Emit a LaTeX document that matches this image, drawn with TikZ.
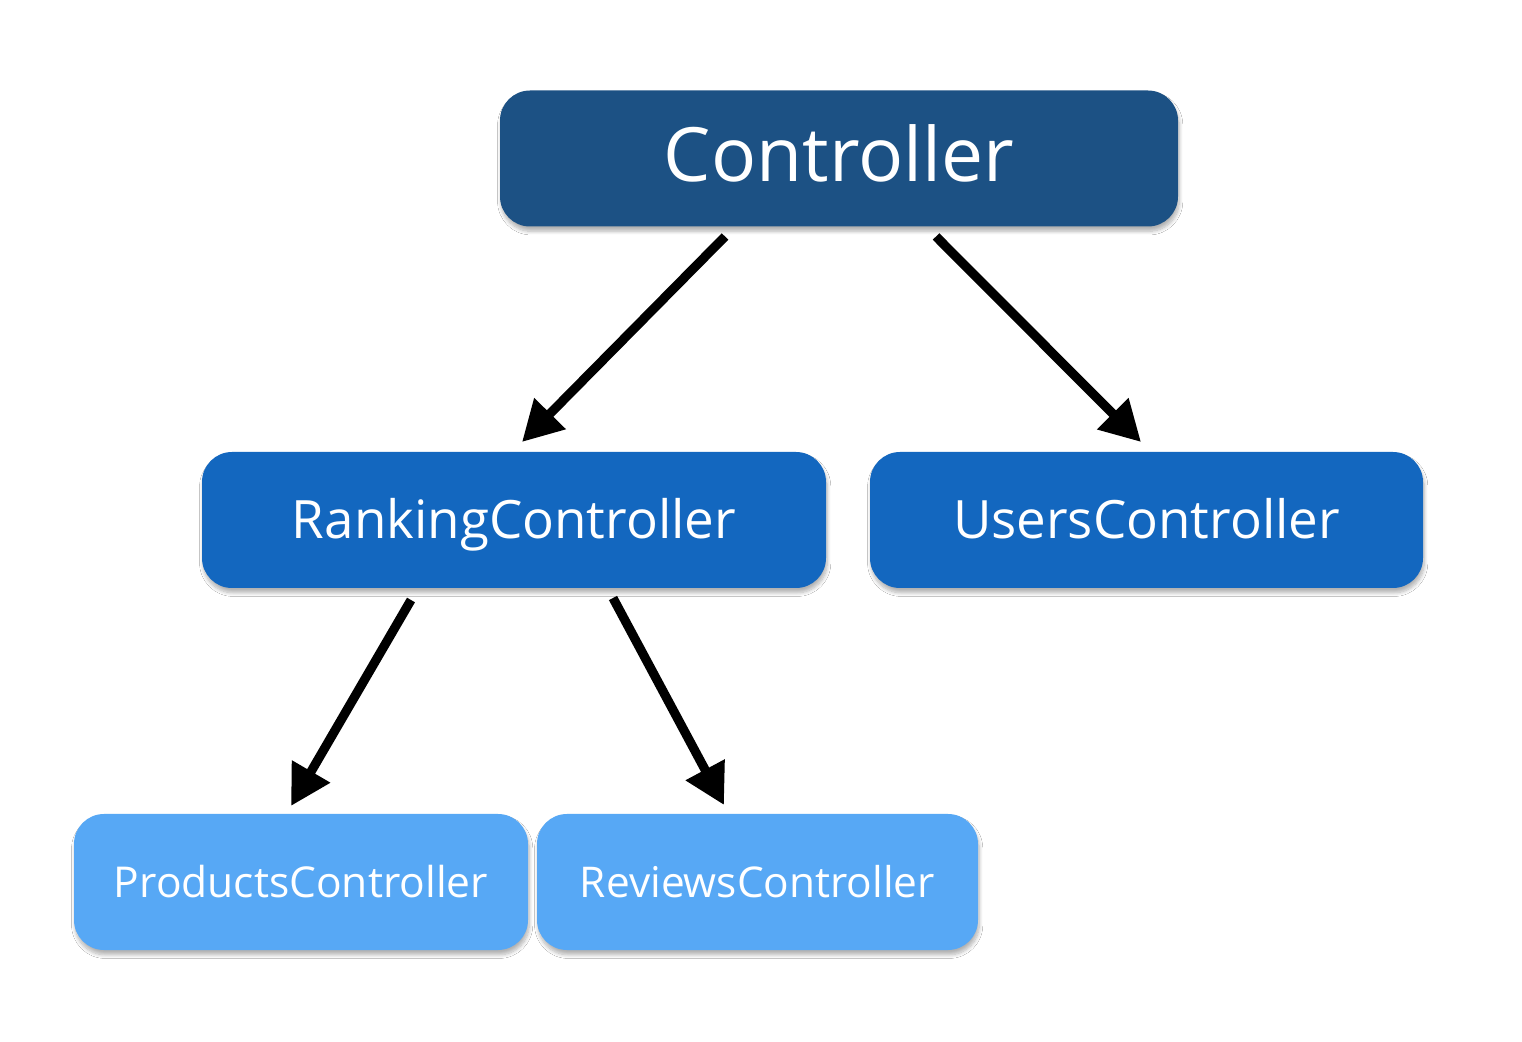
\documentclass[tikz,border=0pt]{standalone}
\usepackage{fontspec}
\setmainfont{Open Sans}
\usetikzlibrary{arrows.meta,shadows,shadows.blur,calc}
\definecolor{cdark}{HTML}{1C5184}
\definecolor{cmid}{HTML}{1367BF}
\definecolor{clight}{HTML}{57A8F5}
\tikzset{
  box/.style={rectangle, rounded corners=15pt, inner sep=0pt, outer sep=0pt,
    minimum height=68pt, text=white,
    blur shadow={shadow xshift=0.6pt, shadow yshift=-2.4pt, shadow blur radius=1.8pt, shadow blur steps=8, shadow opacity=30}},
  conn/.style={line width=4.6pt, -{Triangle[length=20pt,width=21pt]}}
}
\newcommand{\fitw}[3]{\raisebox{-#3}[0pt][0pt]{\resizebox{#1}{!}{#2}}}
\begin{document}
\begin{tikzpicture}[x=0.5pt,y=-0.5pt]
\fill[white] (0,0) rectangle (1522,1042);
\useasboundingbox (0,0) rectangle (1522,1042);
\node[box, fill=cdark, minimum width=339pt] (ctrl) at (839,158.5) {\fitw{175pt}{Controller}{11.75pt}};
\node[box, fill=cmid, minimum width=312pt] (rank) at (514,520) {\fitw{222pt}{RankingController}{9.3pt}};
\node[box, fill=cmid, minimum width=276.5pt] (users) at (1146.5,520) {\fitw{193.5pt}{UsersController}{9.3pt}};
\node[box, fill=clight, minimum width=227pt] (prod) at (301,882) {\fitw{187pt}{ProductsController}{7.7pt}};
\node[box, fill=clight, minimum width=220.5pt] (rev) at (757.5,882) {\fitw{177.5pt}{ReviewsController}{7.7pt}};
\draw[conn] ([xshift=-57pt,yshift=-5pt]ctrl.south) -- ([xshift=4pt,yshift=5pt]rank.north);
\draw[conn] ([xshift=48.5pt,yshift=-5pt]ctrl.south) -- ([xshift=-2.75pt,yshift=5pt]users.north);
\draw[conn] ([xshift=-51.5pt,yshift=-6pt]rank.south) -- ([xshift=-5pt,yshift=4pt]prod.north);
\draw[conn] ([xshift=49.5pt,yshift=-5pt]rank.south) -- ([xshift=-16.75pt,yshift=4.5pt]rev.north);
\end{tikzpicture}
\end{document}
